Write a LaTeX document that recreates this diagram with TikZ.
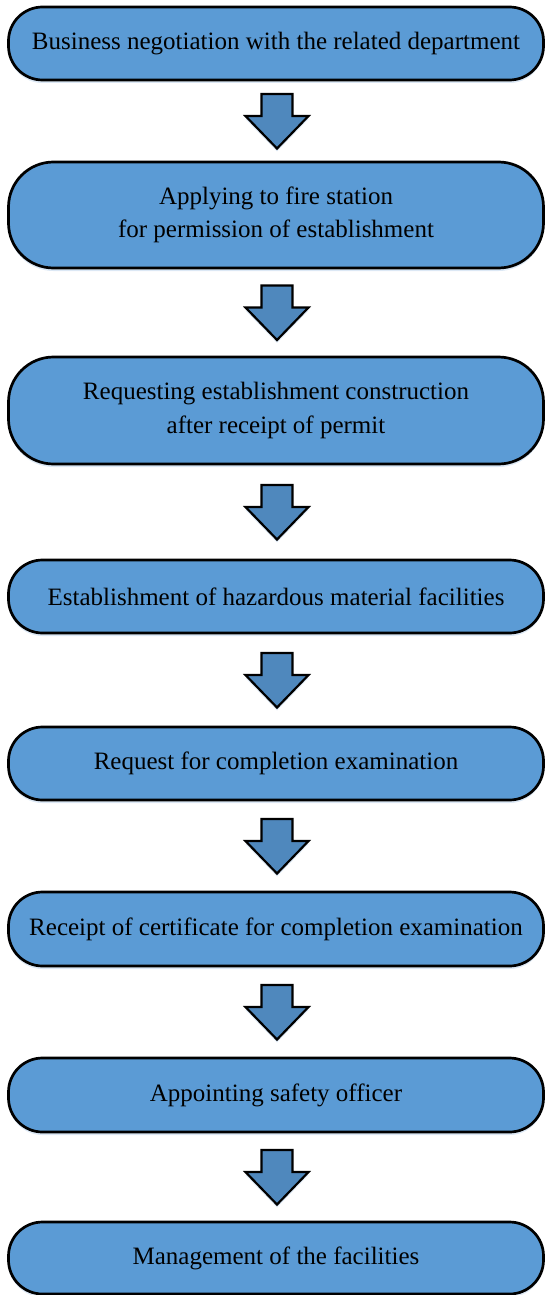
\documentclass[tikz,border=0pt]{standalone}
\usepackage{fontspec}
\setmainfont{Liberation Serif}
\usetikzlibrary{calc,shadows}
\definecolor{boxblue}{HTML}{5B9BD5}
\definecolor{arrowblue}{HTML}{4F88BD}
\definecolor{glow}{HTML}{D3E2F2}
\tikzset{
  stepbox/.style={draw=black, line width=2.7pt, fill=boxblue, rounded corners=#1,
    minimum width=535pt, align=center, inner sep=0pt,
    font=\fontsize{25}{33.5}\selectfont,
    drop shadow={shadow xshift=0pt, shadow yshift=-3pt, fill=glow, opacity=0.8}},
  stepbox/.default=34pt,
  barrow/.pic={
    \draw[draw=black, line width=2.2pt, fill=arrowblue, line join=miter,
          drop shadow={shadow xshift=0pt, shadow yshift=-3pt, fill=glow, opacity=0.8}]
      (-15.5pt,27pt) -- (15.5pt,27pt) -- (15.5pt,5pt) -- (31.5pt,5pt)
      -- (0pt,-27.5pt) -- (-31.5pt,5pt) -- (-15.5pt,5pt) -- cycle;
  }
}
\begin{document}
\begin{tikzpicture}
\useasboundingbox (0,0) rectangle (545pt,-1295pt);
\node[stepbox, minimum height=73pt] (b1) at (276pt,-43.5pt)
  {Business negotiation with the related department};
\node[stepbox=45pt, minimum height=106pt] (b2) at (276pt,-215pt)
  {Applying to fire station\\for permission of establishment};
\node[stepbox=45pt, minimum height=107pt] (b3) at (276pt,-410.5pt)
  {Requesting establishment construction\\after receipt of permit};
\node[stepbox, minimum height=73pt] (b4) at (276pt,-596.5pt)
  {Establishment of hazardous material facilities};
\node[stepbox, minimum height=73pt] (b5) at (276pt,-763.5pt)
  {Request for completion examination};
\node[stepbox, minimum height=74pt] (b6) at (276pt,-929pt)
  {Receipt of certificate for completion examination};
\node[stepbox, minimum height=74pt] (b7) at (276pt,-1095pt)
  {Appointing safety officer};
\node[stepbox, minimum height=72pt] (b8) at (276pt,-1258pt)
  {Management of the facilities};
\foreach \i/\j in {1/2,2/3,3/4,4/5,5/6,6/7,7/8}{
  \coordinate (m\i) at ($($(b\i.south)!0.5!(b\j.north)$)+(1pt,0)$);
  \pic at (m\i) {barrow};
}
\end{tikzpicture}
\end{document}
